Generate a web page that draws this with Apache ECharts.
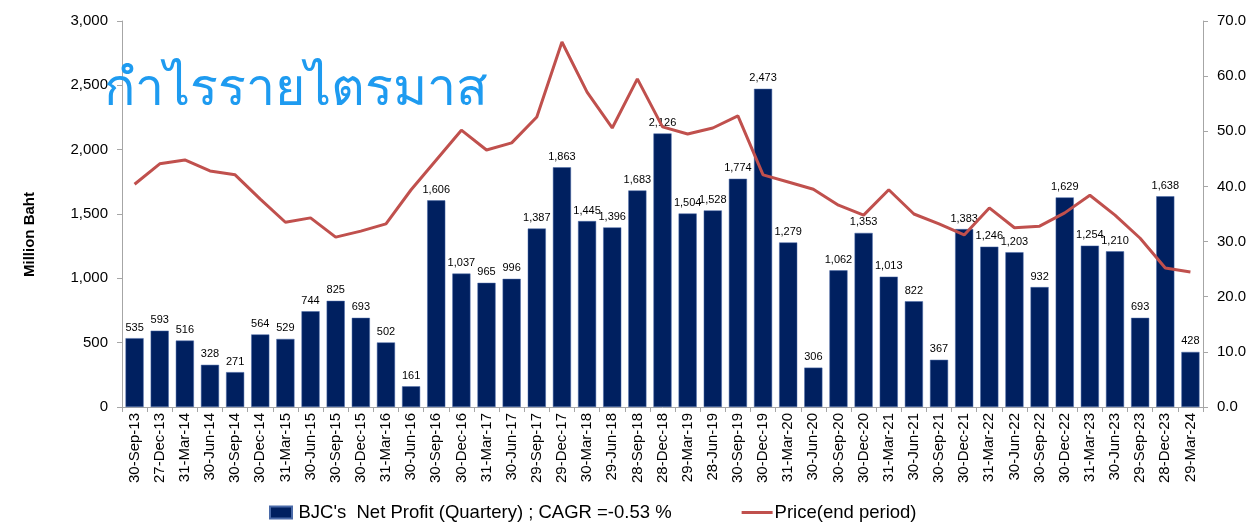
<!DOCTYPE html>
<html>
<head>
<meta charset="utf-8">
<script src="https://cdn.jsdelivr.net/npm/echarts@6/dist/echarts.min.js"></script>
<style>
  html, body { margin: 0; padding: 0; background: #fff; }
  #chart { width: 1255px; height: 526px; }
</style>
</head>
<body>
<div id="chart"></div>
<script>
// quarters
var dates = ['30-Sep-13', '27-Dec-13', '31-Mar-14', '30-Jun-14', '30-Sep-14', '30-Dec-14', '31-Mar-15', '30-Jun-15',
  '30-Sep-15', '30-Dec-15', '31-Mar-16', '30-Jun-16', '30-Sep-16', '30-Dec-16', '31-Mar-17', '30-Jun-17',
  '29-Sep-17', '29-Dec-17', '30-Mar-18', '29-Jun-18', '28-Sep-18', '28-Dec-18', '29-Mar-19', '28-Jun-19',
  '30-Sep-19', '30-Dec-19', '31-Mar-20', '30-Jun-20', '30-Sep-20', '30-Dec-20', '31-Mar-21', '30-Jun-21',
  '30-Sep-21', '30-Dec-21', '31-Mar-22', '30-Jun-22', '30-Sep-22', '30-Dec-22', '31-Mar-23', '30-Jun-23',
  '29-Sep-23', '28-Dec-23', '29-Mar-24'];

// net profit, million baht
var netProfit = [535, 593, 516, 328, 271, 564, 529, 744, 825, 693, 502, 161, 1606, 1037, 965, 996,
  1387, 1863, 1445, 1396, 1683, 2126, 1504, 1528, 1774, 2473, 1279, 306, 1062, 1353, 1013, 822,
  367, 1383, 1246, 1203, 932, 1629, 1254, 1210, 693, 1638, 428];

// share price at end of period
var price = [40.4, 44.1, 44.8, 42.8, 42.1, 37.7, 33.5, 34.3, 30.8, 31.9, 33.2, 39.4, 44.8, 50.2, 46.6, 47.9,
  52.6, 66.2, 57.1, 50.6, 59.5, 50.8, 49.5, 50.6, 52.8, 42.1, 40.8, 39.5, 36.6, 34.8, 39.4, 35.0,
  33.2, 31.2, 36.1, 32.5, 32.8, 35.2, 38.4, 34.8, 30.6, 25.2, 24.5];

var chart = echarts.init(document.getElementById('chart'));
var fontFam = 'Liberation Sans, Noto Sans, sans-serif';

chart.setOption({
  animation: false,
  textStyle: { fontFamily: fontFam },
  title: {
    text: 'กำไรรายไตรมาส',
    left: 99,
    top: 60,
    textStyle: { color: '#1E9BF0', fontSize: 52, fontWeight: 'normal' }
  },
  graphic: [{
    type: 'text',
    left: 22,
    top: 192,
    rotation: Math.PI / 2,
    style: { text: 'Million Baht', fontSize: 15, fontWeight: 'bold', fill: '#000', fontFamily: fontFam }
  }],
  legend: {
    top: 503,
    left: 269,
    padding: 0,
    itemGap: 70,
    itemWidth: 31,
    itemHeight: 12,
    textStyle: { fontSize: 18.5, color: '#000', padding: [0, 0, 0, -3] },
    data: [
      { name: "BJC's  Net Profit (Quartery) ; CAGR =-0.53 %", icon: 'path://M0 0 H22 V12 H0 Z' },
      { name: 'Price(end period)', icon: 'path://M0 0 H31 V3 H0 Z' }
    ]
  },
  grid: { left: 122, right: 52, top: 21, bottom: 119 },
  xAxis: {
    type: 'category',
    data: dates,
    axisLine: { lineStyle: { color: '#a6a6a6' } },
    axisTick: { show: true, length: 5, lineStyle: { color: '#a6a6a6' } },
    axisLabel: { rotate: 90, interval: 0, fontSize: 15, color: '#000', margin: 6 }
  },
  yAxis: [
    {
      type: 'value',
      min: 0, max: 3000, interval: 500,
      splitLine: { show: false },
      axisLine: { show: true, lineStyle: { color: '#a6a6a6' } },
      axisTick: { show: true, length: 5, lineStyle: { color: '#a6a6a6' } },
      axisLabel: {
        fontSize: 15, color: '#000', margin: 14,
        formatter: function (v) { return v.toLocaleString('en-US'); }
      }
    },
    {
      type: 'value',
      min: 0, max: 70, interval: 10,
      position: 'right',
      splitLine: { show: false },
      axisLine: { show: true, lineStyle: { color: '#a6a6a6' } },
      axisTick: { show: true, length: 5, lineStyle: { color: '#a6a6a6' } },
      axisLabel: {
        fontSize: 15, color: '#000', margin: 14,
        formatter: function (v) { return v.toFixed(1); }
      }
    }
  ],
  series: [
    {
      name: "BJC's  Net Profit (Quartery) ; CAGR =-0.53 %",
      type: 'bar',
      data: netProfit,
      barCategoryGap: '28%',
      itemStyle: { color: '#002060', borderColor: '#4a6aa8', borderWidth: 0.5 },
      label: {
        show: true,
        position: 'top',
        distance: 5,
        fontSize: 11,
        color: '#000',
        formatter: function (p) { return p.value.toLocaleString('en-US'); }
      }
    },
    {
      name: 'Price(end period)',
      type: 'line',
      yAxisIndex: 1,
      data: price,
      symbol: 'none',
      lineStyle: { color: '#C0504D', width: 3 },
      itemStyle: { color: '#C0504D' },
      z: 5
    }
  ]
});
</script>
</body>
</html>
